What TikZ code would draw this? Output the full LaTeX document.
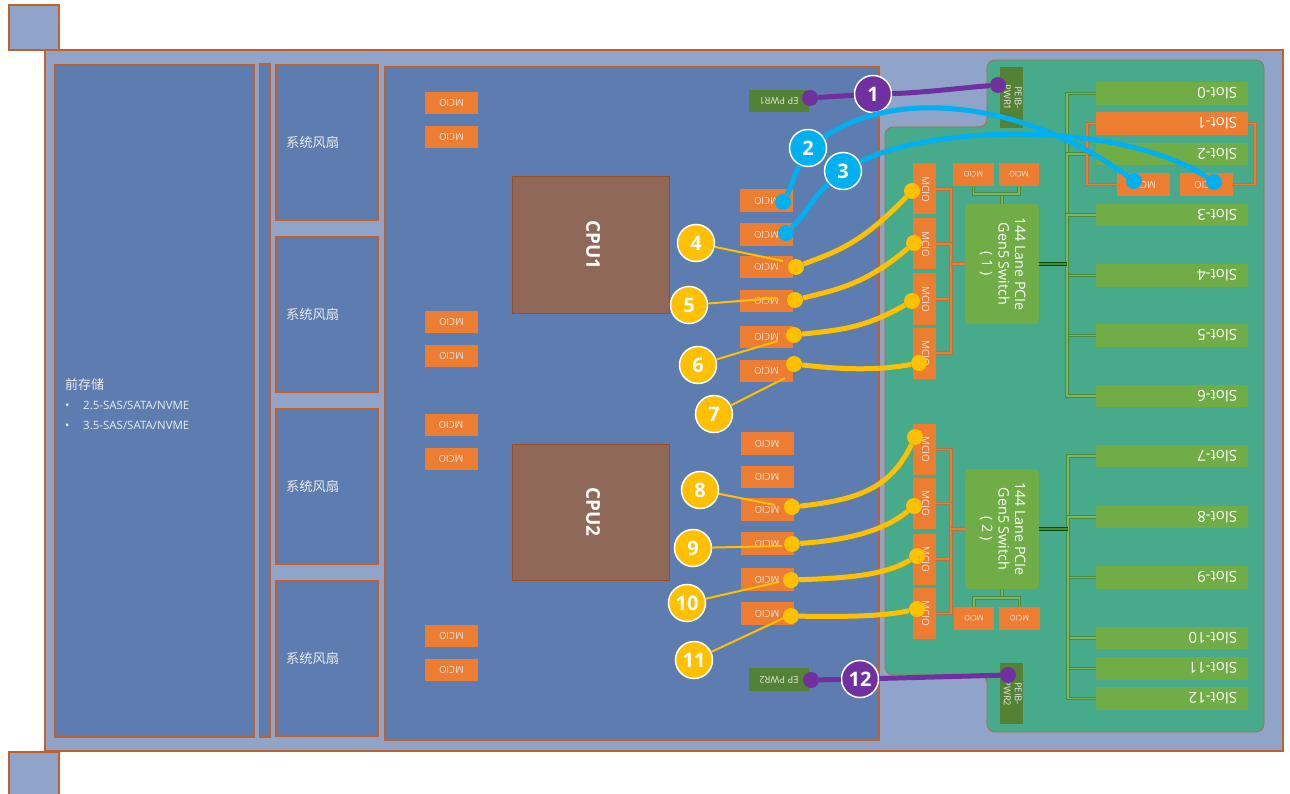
\documentclass[tikz,border=0pt]{standalone}
\usepackage{fontspec}
\setmainfont{Open Sans}
\newfontfamily\cjk{Noto Sans CJK SC}
\usetikzlibrary{positioning, calc}
\definecolor{chassisblue}{HTML}{8FA4C8}
\definecolor{boardblue}{HTML}{5D7CAF}
\definecolor{edgeorange}{HTML}{C0602A}
\definecolor{mcioorange}{HTML}{ED7D31}
\definecolor{slotgreen}{HTML}{70AD47}
\definecolor{pcbgreen}{HTML}{47AA8B}
\definecolor{pwrgreen}{HTML}{548235}
\definecolor{cpubrown}{HTML}{8F6857}
\definecolor{cablecyan}{HTML}{00B0F0}
\definecolor{cableyellow}{HTML}{FFC000}
\definecolor{cablepurple}{HTML}{7030A0}
\definecolor{linkgreen}{HTML}{4A8A3C}
\definecolor{linklight}{HTML}{7DB560}
\definecolor{linktan}{HTML}{A9794A}
\newcommand{\flip}[1]{\rotatebox{180}{#1}}
\newcommand{\turn}[1]{\rotatebox{-90}{\begin{tabular}{@{}c@{}}#1\end{tabular}}}
\tikzset{
    bayblock/.style={rectangle, draw=edgeorange, line width=1.6pt, fill=boardblue, inner sep=0pt, text=white!92!black},
    fanbox/.style={bayblock, minimum height=156pt, text width=82pt, inner xsep=10pt, align=left, font={\fontsize{13.3}{16}\selectfont\cjk}},
    ear/.style={rectangle, draw=edgeorange, line width=1.6pt, fill=chassisblue, inner sep=0pt, minimum width=50pt},
    cpubox/.style={rectangle, draw=edgeorange!80!black, line width=1pt, fill=cpubrown, inner sep=0pt, minimum width=157pt, minimum height=136pt, text=white, font={\fontsize{19}{21}\selectfont\bfseries}},
    mcio/.style={rectangle, fill=mcioorange, inner sep=0pt, minimum width=53pt, minimum height=22.5pt, text=white!90!black, font={\fontsize{9.5}{11}\selectfont}},
    mciov/.style={mcio, minimum width=23pt, minimum height=51pt, font={\fontsize{10}{12}\selectfont}},
    mcios/.style={mcio, minimum width=40.5pt, minimum height=23pt, font={\fontsize{7.5}{9}\selectfont}},
    pwrbox/.style={rectangle, fill=pwrgreen, inner sep=0pt, text=white!90!black, font={\fontsize{9.5}{11}\selectfont}},
    switchbox/.style={rectangle, rounded corners=4pt, fill=slotgreen, inner sep=0pt, minimum width=74pt, minimum height=120pt, text=white, font={\fontsize{14.3}{16.5}\selectfont}},
    slotbox/.style={rectangle, fill=slotgreen, inner ysep=0pt, inner xsep=11pt, text width=130pt, minimum height=22.5pt, align=flush right, text=white, font={\fontsize{15}{18}\selectfont}},
    greenlink/.style={draw=linkgreen, double=linklight, line width=1pt, double distance=1.6pt},
    greentrunk/.style={draw=black!70!green, double=linkgreen, line width=1.2pt, double distance=1.6pt},
    orangelink/.style={draw=linktan, double=mcioorange, line width=1pt, double distance=1.6pt},
    cable/.style={draw=#1, line width=5pt},
    leader/.style={draw=cableyellow, line width=2pt},
    dotmark/.style={circle, fill=#1, inner sep=0pt, minimum size=16pt},
    badge/.style={circle, fill=#1, draw=white, line width=1.5pt, inner sep=0pt, minimum size=37pt, text=white, font={\fontsize{20}{22}\selectfont\bfseries}},
}
\begin{document}
\begin{tikzpicture}[x=1pt, y=-1pt]
    \useasboundingbox (0,0) rectangle (1290,794);
    \node[ear, minimum height=45pt] (earup) at (34,27.5) {};
    \node[ear, minimum height=44pt] (eardown) at (34,774) {};
    \node[rectangle, draw=edgeorange, line width=1.4pt, fill=chassisblue, inner sep=0pt, minimum width=1238pt, minimum height=701pt] (chassis) at (664,400.5) {};

    \node[bayblock, minimum width=199pt, minimum height=672pt] (storage) at (154.5,401) {};
    \node[anchor=west, inner sep=0pt, align=left, text=white!92!black, font={\fontsize{11.5}{20}\selectfont}] (storagetext) at (65,404.5) {{\cjk\fontsize{13}{20}\selectfont 前存储}\\\makebox[18pt][l]{•}2.5-SAS/SATA/NVME\\\makebox[18pt][l]{•}3.5-SAS/SATA/NVME};
    \node[bayblock, minimum width=11pt, minimum height=673pt] (baffle) at (265,400.5) {};
    \node[fanbox] (fan1) at (327,142.5) {系统风扇};
    \node[fanbox] (fan2) at (327,314.5) {系统风扇};
    \node[fanbox] (fan3) at (327,486.5) {系统风扇};
    \node[fanbox] (fan4) at (327,658.5) {系统风扇};
    \node[bayblock, minimum width=494pt, minimum height=673pt] (cpuboard) at (632,403.5) {};

    \draw[draw=edgeorange!70!pcbgreen, line width=.8pt, fill=pcbgreen, rounded corners=8pt]
        (987,127) -- (987,60) -- (1264,60) -- (1264,732) -- (987,732) -- (987,675) -- (885,675) -- (885,127) -- cycle;

    \node[cpubox] (cpu1) at (590.5,245) {\turn{CPU1}};
    \node[cpubox] (cpu2) at (590.5,512) {\turn{CPU2}};

    \foreach \n/\mx/\my in {a/451.5/103, b/451.5/137, c/451.5/322, d/451.5/356, e/451/425, f/451/459, g/451.5/636, h/451.5/670,
        1/766.5/200.5, 2/766.5/234.5, 3/766.5/267, 4/766.5/301, 5/766.5/337, 6/766.5/371,
        7/767/443.5, 8/767/477, 9/767/509.5, 10/767/543.5, 11/767/579.5, 12/767/613.5}
        \node[mcio] (mcio\n) at (\mx,\my) {\flip{MCIO}};

    \foreach \n/\my in {1/189, 2/244, 3/299, 4/353, 5/449.5, 6/503.5, 7/559, 8/613.5}
        \node[mciov] (mv\n) at (924.5,\my) {\turn{MCIO}};
    \node[mcios] (mt1) at (973.5,174.5) {\flip{MCIO}};
    \node[mcios] (mt2) at (1019,174.5) {\flip{MCIO}};
    \node[mcios] (mt3) at (974,618.5) {\flip{MCIO}};
    \node[mcios] (mt4) at (1019.5,618.5) {\flip{MCIO}};
    \node[mcio] (mr1) at (1143.5,184.5) {\flip{MCIO}};
    \node[mcio] (mr2) at (1206.5,184.5) {\flip{MCIO}};

    \node[pwrbox, minimum width=60pt, minimum height=22.5pt] (eppwr1) at (779,101) {\flip{EP PWR1}};
    \node[pwrbox, minimum width=60pt, minimum height=22.5pt] (eppwr2) at (779,679.5) {\flip{EP PWR2}};
    \node[pwrbox, minimum width=23pt, minimum height=61pt] (peib1) at (1011.5,97.5) {\turn{PEIB-\\PWR1}};
    \node[pwrbox, minimum width=23pt, minimum height=61pt] (peib2) at (1011.5,693.5) {\turn{PEIB-\\PWR2}};

    \node[switchbox] (sw1) at (1002,264) {\turn{144 Lane PCIe\\Gen5 Switch\\( 1 )}};
    \node[switchbox] (sw2) at (1002,529) {\turn{144 Lane PCIe\\Gen5 Switch\\( 2 )}};

    \foreach \n/\my in {0/93.5, 2/154, 3/215, 4/275.5, 5/335.5, 6/396, 7/456, 8/517, 9/577.5, 10/638, 11/668.5, 12/698.5}
        \node[slotbox] (slot\n) at (1172,\my) {\flip{Slot-\n}};
    \node[slotbox, fill=mcioorange] (slot1) at (1172,123.5) {\flip{Slot-1}};

    \coordinate (bus1) at (1067,264);
    \coordinate (bus2) at (1068,529);
    \coordinate (obus1) at (951,264);
    \coordinate (obus2) at (951,529);
    \coordinate (tee1) at (1002,194);
    \coordinate (tee2) at (1002,598);
    \coordinate (loopl) at (1087,123.5);
    \coordinate (loopr) at (1255,123.5);

    \foreach \n in {0,2,3,4,5,6}
        \draw[greenlink] (bus1) |- (slot\n);
    \foreach \n in {7,8,9,10,11,12}
        \draw[greenlink] (bus2) |- (slot\n);
    \draw[greentrunk] (sw1) -- (bus1);
    \draw[greentrunk] (sw2) -- (bus2);
    \foreach \n in {1,2,3,4}
        \draw[orangelink] (obus1) |- (mv\n);
    \foreach \n in {5,6,7,8}
        \draw[orangelink] (obus2) |- (mv\n);
    \draw[orangelink] (sw1) -- (obus1);
    \draw[orangelink] (sw2) -- (obus2);
    \draw[greenlink] (sw1) -- (tee1);
    \draw[greenlink] (tee1) -| (mt1);
    \draw[greenlink] (tee1) -| (mt2);
    \draw[greenlink] (sw2) -- (tee2);
    \draw[greenlink] (tee2) -| (mt3);
    \draw[greenlink] (tee2) -| (mt4);
    \draw[orangelink] (mr1) -| (loopl) -- (slot1);
    \draw[orangelink] (mr2) -| (loopr) -- (slot1);

    \node[dotmark=cablepurple] (p1a) at (810,98) {};
    \node[dotmark=cablepurple] (p1b) at (998,85) {};
    \node[dotmark=cablepurple] (p12a) at (811,680) {};
    \node[dotmark=cablepurple] (p12b) at (1008,675) {};
    \node[dotmark=cablecyan] (c2a) at (783,202) {};
    \node[dotmark=cablecyan] (c2b) at (1134,181) {};
    \node[dotmark=cablecyan] (c3a) at (786,233) {};
    \node[dotmark=cablecyan] (c3b) at (1214,182) {};
    \node[dotmark=cableyellow] (y4a) at (796,267) {};
    \node[dotmark=cableyellow] (y4b) at (912,191) {};
    \node[dotmark=cableyellow] (y5a) at (795,300) {};
    \node[dotmark=cableyellow] (y5b) at (914,243) {};
    \node[dotmark=cableyellow] (y6a) at (794,335) {};
    \node[dotmark=cableyellow] (y6b) at (912,301) {};
    \node[dotmark=cableyellow] (y7a) at (794,364) {};
    \node[dotmark=cableyellow] (y7b) at (919,363) {};
    \node[dotmark=cableyellow] (y8a) at (792,507) {};
    \node[dotmark=cableyellow] (y8b) at (915,437) {};
    \node[dotmark=cableyellow] (y9a) at (792,544) {};
    \node[dotmark=cableyellow] (y9b) at (914,506) {};
    \node[dotmark=cableyellow] (y10a) at (791,580) {};
    \node[dotmark=cableyellow] (y10b) at (917,556) {};
    \node[dotmark=cableyellow] (y11a) at (791,616) {};
    \node[dotmark=cableyellow] (y11b) at (917,609) {};

    \node[badge=cablepurple] (tag1) at (873,94) {1};
    \node[badge=cablecyan] (tag2) at (808,148) {2};
    \node[badge=cablecyan] (tag3) at (843,171) {3};
    \node[badge=cableyellow] (tag4) at (696,243) {4};
    \node[badge=cableyellow] (tag5) at (689,305) {5};
    \node[badge=cableyellow] (tag6) at (698,365) {6};
    \node[badge=cableyellow] (tag7) at (714,414) {7};
    \node[badge=cableyellow] (tag8) at (700,490) {8};
    \node[badge=cableyellow] (tag9) at (693,548) {9};
    \node[badge=cableyellow] (tag10) at (687,603) {10};
    \node[badge=cableyellow] (tag11) at (694,660) {11};
    \node[badge=cablepurple] (tag12) at (860,679) {12};

    \draw[cable=cablepurple] (p1a) -- (tag1);
    \draw[cable=cablepurple] (tag1) .. controls (920,93) and (960,88) .. (p1b);
    \draw[cable=cablepurple] (p12a) -- (tag12);
    \draw[cable=cablepurple] (tag12) -- (p12b);
    \draw[cable=cablecyan] (c2a) .. controls (790,190) and (793,178) .. (tag2);
    \draw[cable=cablecyan] (tag2) .. controls (900,85) and (1030,105) .. (c2b);
    \draw[cable=cablecyan] (c3a) .. controls (805,215) and (815,195) .. (tag3);
    \draw[cable=cablecyan] (tag3) .. controls (930,125) and (1120,120) .. (c3b);

    \draw[cable=cableyellow] (y4a) .. controls (835,252) and (860,245) .. (y4b);
    \draw[cable=cableyellow] (y5a) .. controls (835,290) and (865,285) .. (y5b);
    \draw[cable=cableyellow] (y6a) .. controls (840,330) and (865,328) .. (y6b);
    \draw[cable=cableyellow] (y7a) .. controls (830,368) and (870,372) .. (y7b);
    \draw[cable=cableyellow] (y8a) .. controls (855,500) and (890,490) .. (y8b);
    \draw[cable=cableyellow] (y9a) .. controls (850,540) and (885,530) .. (y9b);
    \draw[cable=cableyellow] (y10a) .. controls (850,578) and (885,575) .. (y10b);
    \draw[cable=cableyellow] (y11a) .. controls (850,617) and (885,616) .. (y11b);

    \coordinate (end4) at (783,261);
    \coordinate (end5) at (778,298);
    \coordinate (end6) at (778,341);
    \coordinate (end7) at (785,378);
    \coordinate (end8) at (775,505);
    \coordinate (end9) at (782,546);
    \coordinate (end10) at (779,582);
    \coordinate (end11) at (786,617);
    \foreach \n in {4,...,11}
        \draw[leader] (tag\n) -- (end\n);
\end{tikzpicture}
\end{document}
